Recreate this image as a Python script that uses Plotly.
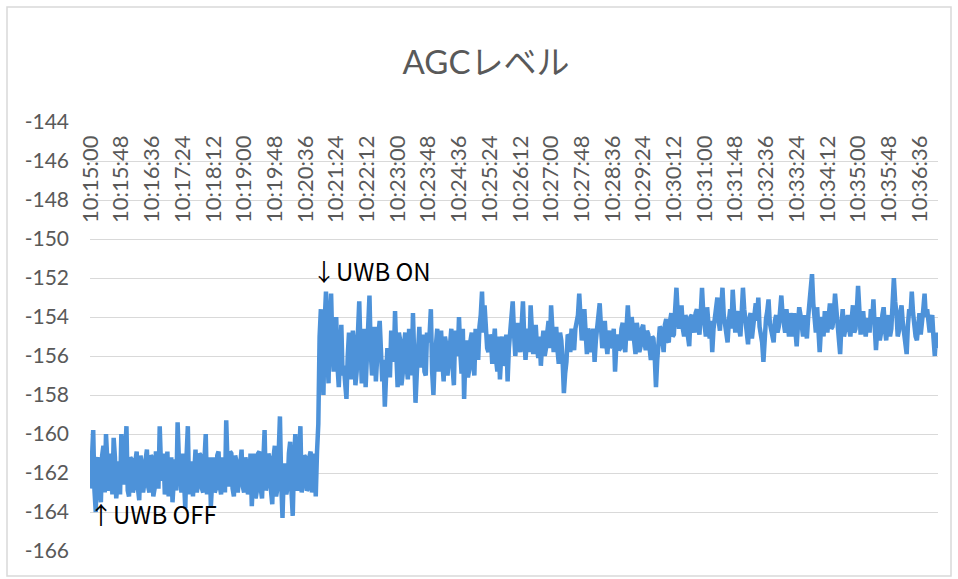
import datetime as dt
import plotly.graph_objects as go

# AGC level readings (dBm). Main readings every 4 s from 10:15:00 ...
agc_off = [
    -162.8, -159.8, -164.0, -161.2, -163.5, -160.6, -160.0, -162.9, -161.0, -160.2,
    -163.3, -161.4, -160.0, -162.6, -159.6, -163.2, -161.3, -162.7, -160.9, -163.4,
    -161.6, -162.5, -160.8, -163.0, -161.2, -162.8, -161.0, -159.6, -162.4, -163.1,
    -160.9, -162.2, -163.5, -161.3, -159.4, -162.6, -161.0, -163.8, -159.6, -162.0,
    -163.2, -160.8, -162.5, -161.1, -163.0, -160.0, -162.3, -163.7, -161.2, -162.8,
    -160.9, -163.1, -161.5, -159.3, -162.7, -161.0, -163.2, -161.4, -162.4, -160.8,
    -163.0, -161.6, -162.6, -163.7, -161.0, -162.9, -160.9, -163.3, -159.8, -162.5,
    -161.3, -163.6, -160.6, -162.8, -159.1, -164.3, -161.5, -162.7, -160.4, -164.2,
    -160.0, -162.9, -159.6, -162.4, -161.2, -162.8, -160.9, -162.6, -163.2,
]
agc_on_early = [
    -159.5, -153.6, -158.0, -152.7, -157.4, -152.8, -156.8, -154.0, -157.6, -154.4,
    -156.5, -158.2, -154.8, -157.2, -155.3, -156.8, -153.2, -157.4, -154.6, -156.2,
    -152.9, -157.0, -154.5, -155.8, -154.2, -157.3, -158.6, -155.6, -157.1, -155.0,
    -153.7, -157.6, -155.2, -156.9, -154.8, -157.2, -155.5, -153.8, -158.4, -155.0,
    -156.6, -154.9, -157.0, -155.3, -153.6, -158.0, -155.1, -156.8, -154.7, -157.3,
    -155.4, -156.2, -154.6, -157.5, -155.0, -154.0, -156.9, -158.2, -155.2, -156.7,
    -154.8, -157.0, -155.3, -154.5, -152.7, -153.4, -155.6, -154.9, -156.4, -154.6,
    -156.8, -157.2, -155.0, -156.3, -157.3, -154.8,
]
agc_on_mid = [
    -153.2, -156.0, -154.3, -155.8, -153.2, -156.2, -154.6, -153.4, -155.9, -154.4,
    -156.1, -156.5, -154.7, -155.6, -154.2, -153.4, -155.8, -154.5, -156.4, -155.2,
    -157.9, -156.3, -155.0, -154.6, -155.7, -154.1, -152.8, -155.2, -153.6, -155.9,
    -154.8, -155.5, -156.3, -154.5, -153.3, -155.6, -154.2, -155.9, -154.7, -155.4,
    -156.8, -154.9, -155.6, -154.3, -155.8, -153.4, -155.2, -154.6, -155.9, -154.8,
    -155.5, -154.4, -155.7, -154.9, -156.2, -155.1, -157.6, -155.4, -154.6, -155.8,
    -154.1, -155.3, -153.8, -154.9, -152.5, -154.6, -153.4, -155.0, -154.2, -155.5,
    -153.9, -154.8, -153.6, -154.9,
]
agc_on_late = [
    -152.5, -154.4, -153.5, -155.1, -155.8, -154.0, -153.0, -154.7, -152.5, -154.3,
    -155.3, -153.6, -152.6, -154.8, -153.7, -155.0, -152.5, -154.2, -155.4, -153.8,
    -154.6, -153.3, -153.0, -154.9, -156.3, -154.1, -153.1, -154.7, -155.3, -153.9,
    -154.5, -152.9, -154.3, -153.6, -155.0, -154.2, -153.8, -155.5, -153.5, -154.6,
    -153.9, -155.1, -153.4, -151.8, -154.2, -153.5, -155.8, -154.0, -153.7, -154.8,
    -153.3, -154.5, -152.8, -154.3, -155.9, -153.6, -154.7, -153.9, -155.0, -153.4,
    -154.6, -152.4, -154.9, -153.7, -155.0, -154.1, -153.6, -153.1, -155.7, -154.0,
    -154.8, -153.5, -155.2, -153.9, -154.6, -152.0, -153.8, -154.7, -153.4, -154.9,
    -155.9, -153.6, -152.7, -154.5, -155.2, -153.8, -154.4, -152.8, -153.6, -154.8,
    -153.9, -156.0, -155.6,
]

# ... and the readings taken 2 s after each of them
agc_off_b = [
    -161.0, -162.9, -161.4, -162.8, -161.1, -163.0, -161.3, -162.7, -163.1, -161.2,
    -162.6, -163.1, -161.5, -161.0, -162.9, -161.2, -163.0, -161.4, -162.8, -161.1,
    -163.0, -161.3, -162.7, -161.1, -163.2, -161.0, -162.8, -161.6, -161.0, -162.6,
    -163.2, -161.2, -161.8, -162.9, -161.3, -163.0, -162.4, -161.1, -163.1, -161.4,
    -161.6, -163.0, -161.0, -162.8, -161.3, -163.1, -161.2, -162.5, -163.0, -161.1,
    -162.7, -161.2, -163.0, -161.5, -160.9, -162.8, -161.1, -163.0, -161.3, -162.7,
    -161.2, -163.1, -161.0, -162.2, -163.3, -161.0, -162.8, -161.4, -162.9, -161.0,
    -162.9, -161.2, -163.2, -161.0, -162.5, -162.0, -163.1, -161.0, -162.9, -161.5,
    -162.6, -161.0, -163.0, -161.1, -162.9, -161.2, -163.0, -161.0, -160.9,
]
agc_on_early_b = [
    -155.0, -156.2, -154.2, -155.9, -154.0, -155.5, -155.2, -156.5, -155.8, -157.0,
    -157.4, -156.0, -155.6, -154.7, -157.5, -154.8, -155.6, -155.9, -157.6, -154.5,
    -155.8, -156.2, -157.3, -154.9, -155.6, -156.2, -157.0, -156.1, -154.7, -156.3,
    -155.9, -154.8, -157.5, -155.4, -156.5, -154.6, -157.0, -156.1, -156.9, -154.5,
    -155.4, -156.8, -154.8, -154.9, -156.8, -156.2, -154.6, -155.8, -156.3, -155.0,
    -157.0, -154.9, -156.6, -154.7, -156.0, -155.8, -154.6, -156.0, -157.1, -155.2,
    -156.3, -154.6, -156.2, -153.9, -154.8, -154.9, -155.8, -155.2, -155.4, -156.2,
    -155.0, -156.0, -156.5, -154.9, -155.6, -154.3,
]
agc_on_mid_b = [
    -154.8, -155.2, -155.5, -154.4, -155.0, -155.3, -155.8, -154.7, -155.0, -155.6,
    -155.0, -155.4, -156.0, -154.8, -155.6, -154.6, -154.9, -155.7, -154.8, -156.2,
    -156.9, -154.9, -155.8, -155.2, -154.6, -153.9, -154.3, -154.7, -154.8, -154.6,
    -155.8, -154.6, -155.2, -154.0, -154.5, -154.8, -155.3, -155.0, -155.6, -154.6,
    -155.5, -155.7, -154.6, -155.4, -154.5, -154.6, -154.0, -155.5, -154.3, -155.8,
    -154.6, -155.3, -154.7, -155.6, -155.0, -156.0, -156.2, -154.5, -155.5, -154.4,
    -155.2, -154.2, -155.0, -153.6, -153.8, -154.0, -154.6, -153.9, -155.0, -154.0,
    -154.5, -153.8, -154.6, -153.8,
]
agc_on_late_b = [
    -153.8, -155.0, -154.4, -154.2, -154.6, -153.6, -154.2, -153.6, -153.9, -155.0,
    -154.2, -154.6, -153.7, -153.9, -154.6, -153.8, -153.6, -154.9, -154.1, -155.1,
    -153.8, -154.2, -154.5, -155.3, -155.0, -153.7, -154.3, -155.2, -154.2, -154.8,
    -153.7, -153.9, -154.8, -154.6, -153.8, -155.0, -154.7, -154.4, -153.9, -155.0,
    -154.6, -154.0, -152.8, -153.3, -154.8, -154.7, -154.6, -155.0, -154.2, -154.0,
    -154.6, -153.9, -153.6, -155.2, -154.4, -155.0, -154.2, -154.6, -154.1, -154.8,
    -153.7, -153.6, -154.0, -154.6, -154.2, -154.8, -154.3, -154.5, -154.6, -155.2,
    -153.9, -154.6, -154.4, -155.0, -153.3, -153.2, -155.0, -153.8, -154.3, -155.5,
    -154.4, -153.9, -153.8, -155.0, -154.4, -154.9, -153.6, -154.0, -154.5, -154.2,
    -155.1, -154.8,
]

main = agc_off + agc_on_early + agc_on_mid + agc_on_late
between = agc_off_b + agc_on_early_b + agc_on_mid_b + agc_on_late_b
agc = []
for k, v in enumerate(main):
    agc.append(v)
    if k < len(between):
        agc.append(between[k])

start = dt.datetime(2020, 1, 1, 10, 15, 0)
times = [(start + dt.timedelta(seconds=2 * k)).strftime("%H:%M:%S") for k in range(len(agc))]
tick_times = times[::24]

y_ticks = list(range(-166, -143, 2))

GRAY = "#595959"
GRID = "#d9d9d9"

fig = go.Figure()
fig.add_trace(go.Scatter(
    x=times, y=agc, mode="lines",
    line=dict(color="#4d92d9", width=4.5),
    hoverinfo="x+y", showlegend=False,
))

## note labels
fig.add_annotation(x=times[176], y=-151.6, text="↓UWB ON", showarrow=False,
                   xanchor="left", yanchor="middle", xshift=-6,
                   font=dict(family="Noto Sans CJK JP", size=24, color="black"))
fig.add_annotation(x=times[0], y=-164.1, text="↑UWB OFF", showarrow=False,
                   xanchor="left", yanchor="middle", xshift=-4,
                   font=dict(family="Noto Sans CJK JP", size=24, color="black"))

## chart border
fig.add_shape(type="rect", xref="paper", yref="paper",
              x0=(7 - 90) / 848, x1=(951 - 90) / 848,
              y0=(551 - 576) / 429, y1=(551 - 7) / 429,
              line=dict(color=GRID, width=1.5), layer="below")

fig.update_layout(
    width=958, height=579, autosize=False,
    margin=dict(l=90, r=20, t=122, b=28, autoexpand=False),
    plot_bgcolor="white", paper_bgcolor="white",
    title=dict(text="AGCレベル", x=486 / 958, y=1 - 62 / 579,
               xanchor="center", yanchor="middle",
               font=dict(family="Lato, Noto Sans CJK JP", size=33, color=GRAY)),
    font=dict(family="Lato", color=GRAY),
)
# category axis crosses at the top edge, labels hang down into the plot
fig.update_xaxes(
    type="category", side="bottom", anchor="free", position=1.0,
    range=[-0.5, len(agc) - 0.5], automargin=False,
    tickvals=tick_times, ticktext=tick_times, tickangle=-90,
    ticklabelstandoff=8,
    tickfont=dict(family="Lato", size=22, color=GRAY),
    showgrid=False, showline=False, zeroline=False, ticks="",
)
fig.update_yaxes(
    range=[-166, -144], tickvals=y_ticks, ticktext=[str(v) for v in y_ticks],
    automargin=False,
    tickfont=dict(family="Lato", size=21, color=GRAY),
    gridcolor=GRID, gridwidth=1.3, zeroline=False, showline=False,
    ticks="", ticklabelstandoff=20,
)

fig.write_html("out.html", config={"displayModeBar": False},
               post_script="document.body.style.margin='0';")
